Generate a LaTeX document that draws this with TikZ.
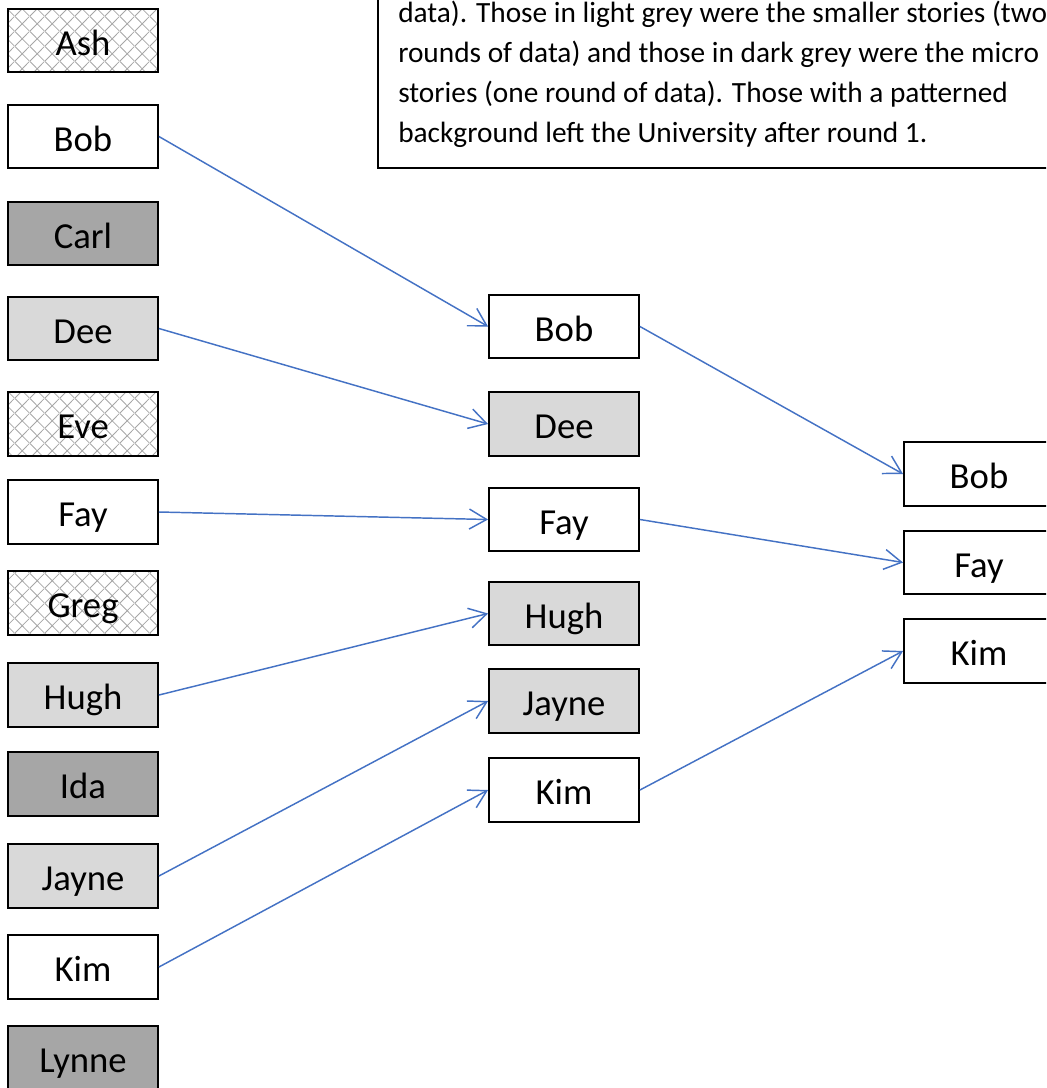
\documentclass[tikz,border=0pt]{standalone}
\usepackage{fontspec}
\setmainfont{Carlito}
\usepackage{xcolor}
\usetikzlibrary{arrows.meta,patterns.meta}

\definecolor{linkblue}{RGB}{68,114,196}
\definecolor{lightfill}{RGB}{217,217,217}
\definecolor{darkfill}{RGB}{166,166,166}

\tikzdeclarepattern{
	name=lattice,
	type=uncolored,
	bounding box={(0pt,0pt) and (11pt,11pt)},
	tile size={(11pt,11pt)},
	code={
		\draw[line width=0.6pt] (0pt,0pt) -- (11pt,11pt) (0pt,11pt) -- (11pt,0pt);
	}
}

\begin{document}
\begin{tikzpicture}[x=0.75pt,y=0.75pt,yscale=-1,xscale=1,
	pal/.style={draw,line width=1.4pt,minimum width=112.5pt,minimum height=47.5pt,inner sep=0pt,text height=26pt,text depth=4pt,font=\fontsize{27.5}{30}\selectfont},
	larger/.style={pal,fill=white},
	smaller/.style={pal,fill=lightfill},
	micro/.style={pal,fill=darkfill},
	gone/.style={pal,pattern=lattice,pattern color=black!35},
	link/.style={draw=linkblue,line width=1.1pt,-{Straight Barb[length=13pt,width=15pt,line width=1.1pt]}}]
			%set diagram frame: 1046 x 1088
			\useasboundingbox (0,0) rectangle (1046,1088);
			\clip (0,0) rectangle (1046,1088);
			
			%Note box (cut off at top and right)
			\draw[line width=1.2pt] (378,-20) rectangle (1080,168);
			% Text Node
			\node (note) [anchor=north west,inner sep=0pt,align=left,font=\fontsize{22}{30}\selectfont] at (398,1) {data). Those in light grey were the smaller stories (two\\rounds of data) and those in dark grey were the micro\\stories (one round of data). Those with a patterned\\background left the University after round 1.};
			
			%Round 1
			\node (ash1) [gone] at (83,40.5) {Ash};
			\node (bob1) [larger] at (83,136.5) {Bob};
			\node (carl1) [micro] at (83,233.5) {Carl};
			\node (dee1) [smaller] at (83,328.5) {Dee};
			\node (eve1) [gone] at (83,424) {Eve};
			\node (fay1) [larger] at (83,512) {Fay};
			\node (greg1) [gone] at (83,603) {Greg};
			\node (hugh1) [smaller] at (83,695) {Hugh};
			\node (ida1) [micro] at (83,784) {Ida};
			\node (jayne1) [smaller] at (83,876) {Jayne};
			\node (kim1) [larger] at (83,967) {Kim};
			\node (lynne1) [micro] at (83,1058) {Lynne};
			
			%Round 2
			\node (bob2) [larger] at (564,326.5) {Bob};
			\node (dee2) [smaller] at (564,424) {Dee};
			\node (fay2) [larger] at (564,519.5) {Fay};
			\node (hugh2) [smaller] at (564,613.5) {Hugh};
			\node (jayne2) [smaller] at (564,701) {Jayne};
			\node (kim2) [larger] at (564,790) {Kim};
			
			%Round 3
			\node (bob3) [larger] at (979,474) {Bob};
			\node (fay3) [larger] at (979,562.5) {Fay};
			\node (kim3) [larger] at (979,651) {Kim};
			
			%Links
			\draw [link] (bob1.east) -- (bob2.west);
			\draw [link] (dee1.east) -- (dee2.west);
			\draw [link] (fay1.east) -- (fay2.west);
			\draw [link] (hugh1.east) -- (hugh2.west);
			\draw [link] (jayne1.east) -- (jayne2.west);
			\draw [link] (kim1.east) -- (kim2.west);
			\draw [link] (bob2.east) -- (bob3.west);
			\draw [link] (fay2.east) -- (fay3.west);
			\draw [link] (kim2.east) -- (kim3.west);
			
\end{tikzpicture}
\end{document}
